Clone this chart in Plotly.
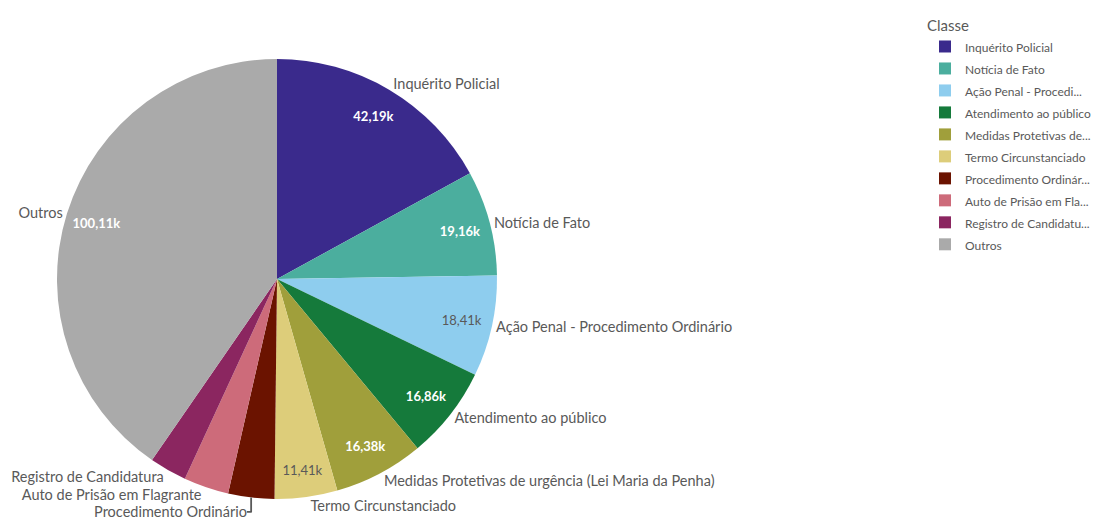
import plotly.graph_objects as go

categories = ["Inquérito Policial", "Notícia de Fato", "Ação Penal - Procedimento Ordinário",
              "Atendimento ao público", "Medidas Protetivas de urgência (Lei Maria da Penha)",
              "Termo Circunstanciado", "Procedimento Ordinário", "Auto de Prisão em Flagrante",
              "Registro de Candidatura", "Outros"]
legend_names = ["Inquérito Policial", "Notícia de Fato", "Ação Penal - Procedi...",
                "Atendimento ao público", "Medidas Protetivas de...", "Termo Circunstanciado",
                "Procedimento Ordinár...", "Auto de Prisão em Fla...", "Registro de Candidatu...",
                "Outros"]
values_k = [42.19, 19.16, 18.41, 16.86, 16.38, 11.41, 8.4, 8.2, 6.8, 100.11]
show_value = [True, True, True, True, True, True, False, False, False, True]

colors = ["#3a2a8c", "#4bae9e", "#8ecdee", "#157a3b", "#a09f3b",
          "#ddcd7a", "#6b1300", "#cd6b7a", "#8b2660", "#aaaaaa"]
value_text_colors = ["#ffffff", "#ffffff", "#595959", "#ffffff", "#ffffff",
                     "#595959", "#ffffff", "#ffffff", "#ffffff", "#ffffff"]

def fmt(v, s, c):
    if not s:
        return ""
    t = f"{v:.2f}k".replace(".", ",")
    return f"<b>{t}</b>" if c == "#ffffff" else t

value_text = [fmt(v, s, c) for v, s, c in zip(values_k, show_value, value_text_colors)]
legend_labels = [f"<span style='font-size:12px'>{n}</span>" for n in legend_names]

W, H = 1098, 527
cx, cy, r = 277, 279, 220
domain = dict(x=[(cx - r) / W, (cx + r) / W], y=[(H - cy - r) / H, (H - cy + r) / H])
FONT = "Lato"

fig = go.Figure()
# coloured slices + legend
fig.add_trace(go.Pie(
    labels=legend_labels, values=values_k,
    sort=False, direction="clockwise", rotation=0,
    marker=dict(colors=colors, line=dict(width=0)),
    textinfo="none",
    domain=domain, showlegend=True, hoverinfo="skip",
))
# value labels near the rim
fig.add_trace(go.Pie(
    labels=categories, values=values_k, text=value_text, hole=0.72,
    sort=False, direction="clockwise", rotation=0,
    marker=dict(colors=["rgba(0,0,0,0)"] * len(categories), line=dict(width=0)),
    textinfo="text", textposition="inside", insidetextorientation="horizontal",
    insidetextfont=dict(family=FONT, size=13, color=value_text_colors),
    domain=domain, showlegend=False, hoverinfo="skip",
))
# category labels outside
fig.add_trace(go.Pie(
    labels=categories, values=values_k,
    sort=False, direction="clockwise", rotation=0,
    marker=dict(colors=["rgba(0,0,0,0)"] * len(categories), line=dict(width=0)),
    textinfo="label", textposition="outside",
    outsidetextfont=dict(family=FONT, size=14.5, color="#595959"),
    domain=domain, showlegend=False, hoverinfo="skip",
))

fig.update_layout(
    width=W, height=H,
    margin=dict(l=0, r=0, t=0, b=0),
    paper_bgcolor="white", plot_bgcolor="white",
    font=dict(family=FONT, color="#595959"),
    legend=dict(
        title=dict(text="Classe", font=dict(size=15, color="#595959")),
        x=925 / W, y=1 - 11 / H, xanchor="left", yanchor="top",
        font=dict(size=14.6, color="#595959"),
        traceorder="normal",
    ),
)
fig.write_html("out.html", config={"displayModeBar": False},
               post_script="document.body.style.margin='0';document.body.style.overflow='hidden';")
